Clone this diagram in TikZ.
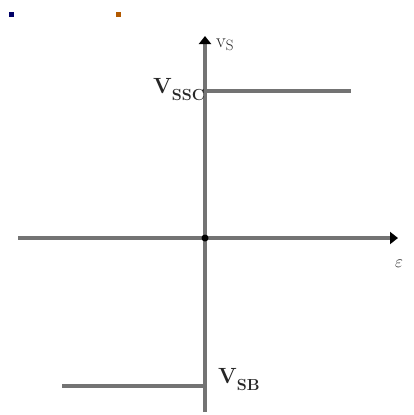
\documentclass[tikz,border=0pt]{standalone}
\usetikzlibrary{arrows.meta}
\begin{document}
\begin{tikzpicture}[x=1pt,y=-1pt,
  axis/.style={draw=black!55,line width=4.5pt},
  level/.style={draw=black!55,line width=3.5pt},
  lbl/.style={inner sep=0pt,font=\fontsize{22}{24}\selectfont\bfseries,text=black!85}]
\useasboundingbox (0,0) rectangle (413,415);
% tiny marks top-left
\fill[blue!40!black] (9,12) rectangle (14,17);
\fill[orange!70!black] (116,12) rectangle (121,17);
% axes
\coordinate (ybot) at (205,412);
\coordinate (ytop) at (205,36);
\coordinate (xl) at (18,238);
\coordinate (xr) at (398,238);
\coordinate (o) at (205,238);
\draw[axis,-{Triangle[length=8pt,width=12pt,fill=black,color=black]}] (ybot) -- (ytop);
\draw[axis,-{Triangle[length=8pt,width=12pt,fill=black,color=black]}] (xl) -- (xr);
\fill[black] (o) circle (3.5pt);
% levels
\coordinate (hA) at (205,91);
\coordinate (hB) at (351,91);
\coordinate (lA) at (62,386);
\coordinate (lB) at (205,386);
\draw[level] (hA) -- (hB);
\draw[level] (lA) -- (lB);
% labels
\node[lbl,anchor=west] (vs) at (216,45) {\fontsize{20}{22}\selectfont\mdseries v\raisebox{-3pt}{\fontsize{15}{17}\selectfont S}};
\node[lbl,anchor=east] (vsh) at (205,90) {V\raisebox{-7pt}{\fontsize{16}{18}\selectfont SSC}};
\node[lbl,anchor=west] (vsb) at (218,380) {V\raisebox{-7pt}{\fontsize{16}{18}\selectfont SB}};
\node[lbl,anchor=center] (eps) at (399,264) {\fontsize{18}{20}\selectfont $\varepsilon$};
\end{tikzpicture}
\end{document}
